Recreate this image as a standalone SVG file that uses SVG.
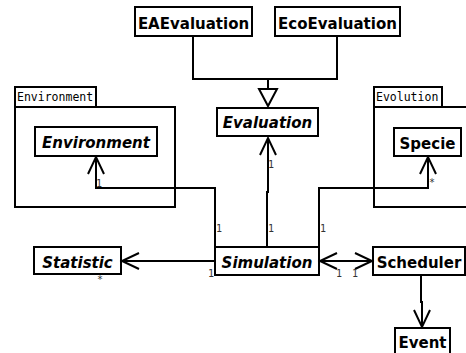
<svg xmlns="http://www.w3.org/2000/svg" width="466" height="353" viewBox="0 0 466 353">
<style>
.box{fill:#fff;stroke:#000;stroke-width:2}
.pkg{fill:none;stroke:#000;stroke-width:2}
.t{font-family:"DejaVu Sans",sans-serif;font-size:15px;font-weight:bold;text-anchor:middle;fill:#000}
.i{font-style:italic}
.p{font-family:"DejaVu Sans Mono",monospace;font-size:11.5px;fill:#000}
.m{font-family:"DejaVu Sans Mono",monospace;font-size:10px;fill:#333}
.ln{fill:none;stroke:#000;stroke-width:2}
.ah{fill:none;stroke:#000;stroke-width:2}
</style>
<g id="pkg-environment">
<rect class="pkg" x="15" y="87" width="81" height="20"/>
<rect class="pkg" x="15" y="107" width="160" height="100"/>
<text class="p" x="17" y="101">Environment</text>
</g>
<g id="pkg-evolution">
<rect class="pkg" x="374" y="87" width="68" height="20"/>
<rect class="pkg" x="374" y="107" width="100" height="100"/>
<text class="p" x="376" y="101">Evolution</text>
</g>
<g id="EAEvaluation">
<rect class="box" x="135" y="7" width="117" height="29"/>
<text class="t" x="193.5" y="29">EAEvaluation</text>
</g>
<g id="EcoEvaluation">
<rect class="box" x="275" y="7" width="125" height="29"/>
<text class="t" x="337.5" y="29">EcoEvaluation</text>
</g>
<g id="Environment">
<rect class="box" x="35" y="127" width="122" height="29"/>
<text class="t i" x="96" y="148">Environment</text>
</g>
<g id="Evaluation">
<rect class="box" x="217" y="108" width="101" height="28"/>
<text class="t i" x="267.5" y="128">Evaluation</text>
</g>
<g id="Specie">
<rect class="box" x="394" y="128" width="67" height="28"/>
<text class="t" x="427.5" y="149">Specie</text>
</g>
<g id="Statistic">
<rect class="box" x="34" y="247" width="87" height="27"/>
<text class="t i" x="77.5" y="268">Statistic</text>
</g>
<g id="Simulation">
<rect class="box" x="215" y="247" width="104" height="28"/>
<text class="t i" x="267" y="268">Simulation</text>
</g>
<g id="Scheduler">
<rect class="box" x="373" y="247" width="92" height="28"/>
<text class="t" x="419" y="268">Scheduler</text>
</g>
<g id="Event">
<rect class="box" x="395" y="328" width="55" height="30"/>
<text class="t" x="422.5" y="348">Event</text>
</g>
<g id="connectors">
<polyline class="ln" points="193,36 193,79 337,79 337,36"/>
<line class="ln" x1="268" y1="79" x2="268" y2="89"/>
<polygon points="259,89 277,89 268,106" fill="#fff" stroke="#000" stroke-width="2"/>
<polyline class="ln" points="215,247 215,188 96,188 96,157"/>
<polyline class="ah" points="88,174 96,157 104,174"/>
<polyline class="ln" points="267,247 267,192 268,192 268,138"/>
<polyline class="ah" points="260,155 268,138 276,155"/>
<polyline class="ln" points="319,247 319,188 428,188 428,157"/>
<polyline class="ah" points="420,174 428,157 436,174"/>
<line class="ln" x1="215" y1="261" x2="122" y2="261"/>
<polyline class="ah" points="139,253 122,261 139,269"/>
<line class="ln" x1="320" y1="261" x2="372" y2="261"/>
<polyline class="ah" points="337,253 320,261 337,269"/>
<polyline class="ah" points="355,253 372,261 355,269"/>
<polyline class="ln" points="421,275 421,302 422,302 422,327"/>
<polyline class="ah" points="414,310 422,327 430,310"/>
<text class="m" x="96" y="187">1</text>
<text class="m" x="216" y="232">1</text>
<text class="m" x="268" y="168">1</text>
<text class="m" x="268" y="232">1</text>
<text class="m" x="320" y="232">1</text>
<text class="m" x="429" y="186">*</text>
<text class="m" x="97" y="283">*</text>
<text class="m" x="208" y="277">1</text>
<text class="m" x="336" y="277">1</text>
<text class="m" x="352" y="277">1</text>
</g>
</svg>
